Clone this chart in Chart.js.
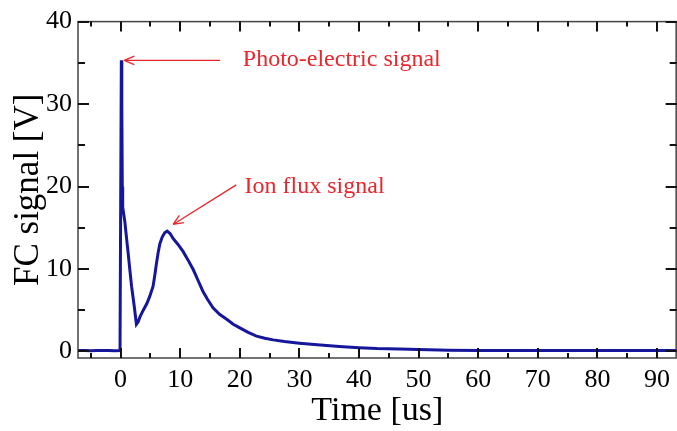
<!DOCTYPE html>
<html>
<head>
<meta charset="utf-8">
<script src="https://cdn.jsdelivr.net/npm/chart.js@4.4.1/dist/chart.umd.min.js"></script>
<style>
  html, body { margin: 0; padding: 0; background: #fff; }
  #wrap { width: 677px; height: 431px; }
</style>
</head>
<body>
<div id="wrap"><canvas id="fcChart"></canvas></div>
<script>
// Datos (tiempo en us, señal en V)
const timeUs = [-7.15, -6, -5, -4, -3, -2, -1, -0.1, 0.0, 0.12, 0.2, 0.28, 0.35, 0.45, 0.7, 1.0, 1.27, 1.55, 1.84, 2.28,
    2.65, 2.95, 3.25, 3.8, 4.4, 4.9, 5.45, 5.75, 6.0, 6.3, 6.6, 7.0, 7.4, 7.8, 8.3, 8.8, 9.6, 10.5, 11.3, 12.2,
    13.0, 13.8, 14.6, 15.5, 16.6, 17.8, 18.9, 20.0, 21.4, 22.8, 24.2, 25.6, 27.5, 30.0, 33.0, 36.7, 40.0, 43.0, 46.8, 50.0,
    55, 60, 65, 70, 75, 80, 85, 90, 93.3];
const signalV = [0.1, 0.12, 0.08, 0.1, 0.12, 0.1, 0.08, 0.1, 0.1, 35.3, 30.0, 20.0, 17.5, 17.0, 15.8, 13.7, 11.9, 9.9, 7.9, 5.5,
    3.3, 3.6, 4.2, 5.0, 5.8, 6.7, 7.9, 9.3, 10.6, 12.0, 13.1, 13.9, 14.4, 14.6, 14.3, 13.7, 13.0, 12.1, 11.1, 9.9,
    8.6, 7.3, 6.3, 5.3, 4.5, 3.9, 3.3, 2.85, 2.3, 1.85, 1.6, 1.4, 1.2, 1.0, 0.8, 0.6, 0.45, 0.35, 0.3, 0.22,
    0.15, 0.1, 0.12, 0.1, 0.1, 0.12, 0.1, 0.1, 0.1];

const xMajorTicks = [0, 10, 20, 30, 40, 50, 60, 70, 80, 90];
const xMinorTicks = [-5, 5, 15, 25, 35, 45, 55, 65, 75, 85];
const yMajorTicks = [0, 10, 20, 30, 40];
const yMinorTicks = [5, 15, 25, 35];

// Anotaciones en unidades de datos
const noteLabels = ["Photo-electric signal", "Ion flux signal"];
const noteTextPos = [[20.5, 34.6], [20.8, 19.2]];
const arrowTails = [[16.7, 35.3], [19.4, 20.2]];
const arrowHeads = [[0.6, 35.3], [8.8, 15.4]];

const serif = '"Liberation Serif", "Times New Roman", serif';

// Marco y ticks hacia adentro en los cuatro lados
const frameTicks = {
    id: 'frameTicks',
    afterDraw(chart) {
        const { ctx, chartArea: a, scales } = chart;
        const xs = scales.x, ys = scales.y;
        ctx.save();
        ctx.strokeStyle = '#444';
        ctx.lineWidth = 1.5;
        ctx.strokeRect(a.left, a.top, a.right - a.left - 0.5, a.bottom - a.top);
        ctx.strokeStyle = '#111';
        ctx.lineWidth = 2;
        const tickX = (vals, len) => vals.forEach(v => {
            const px = Math.round(xs.getPixelForValue(v));
            if (px <= a.left || px >= a.right) return;
            ctx.beginPath();
            ctx.moveTo(px, a.bottom); ctx.lineTo(px, a.bottom - len);
            ctx.moveTo(px, a.top); ctx.lineTo(px, a.top + len);
            ctx.stroke();
        });
        const tickY = (vals, len) => vals.forEach(v => {
            const py = Math.round(ys.getPixelForValue(v));
            if (py <= a.top || py >= a.bottom) return;
            ctx.beginPath();
            ctx.moveTo(a.left, py); ctx.lineTo(a.left + len, py);
            ctx.moveTo(a.right, py); ctx.lineTo(a.right - len, py);
            ctx.stroke();
        });
        tickX(xMajorTicks, 10);
        tickX(xMinorTicks, 5);
        tickY(yMajorTicks, 11);
        tickY(yMinorTicks, 7);
        ctx.restore();
    }
};

// Flechas y textos en rojo
const notes = {
    id: 'notes',
    afterDatasetsDraw(chart) {
        const { ctx, scales } = chart;
        const px = v => scales.x.getPixelForValue(v);
        const py = v => scales.y.getPixelForValue(v);
        ctx.save();
        ctx.strokeStyle = '#e8262c';
        ctx.fillStyle = '#e8262c';
        ctx.lineWidth = 1.3;
        arrowTails.forEach((t, i) => {
            const x0 = px(t[0]), y0 = py(t[1]);
            const x1 = px(arrowHeads[i][0]), y1 = py(arrowHeads[i][1]);
            const ang = Math.atan2(y1 - y0, x1 - x0);
            ctx.beginPath();
            ctx.moveTo(x0, y0); ctx.lineTo(x1, y1);
            [0.4, -0.4].forEach(d => {
                ctx.moveTo(x1, y1);
                ctx.lineTo(x1 - 11 * Math.cos(ang + d), y1 - 11 * Math.sin(ang + d));
            });
            ctx.stroke();
        });
        ctx.font = '24px ' + serif;
        ctx.textBaseline = 'alphabetic';
        noteLabels.forEach((txt, i) => {
            ctx.fillText(txt, px(noteTextPos[i][0]), py(noteTextPos[i][1]));
        });
        ctx.restore();
    }
};

const ctx = document.getElementById('fcChart').getContext('2d');
new Chart(ctx, {
    type: 'line',
    data: {
        datasets: [{
            data: timeUs.map((t, i) => ({ x: t, y: signalV[i] })),
            borderColor: '#16169c',
            borderWidth: 3,
            pointRadius: 0,
            tension: 0,
            fill: false
        }]
    },
    options: {
        responsive: true,
        maintainAspectRatio: false,
        animation: false,
        layout: { padding: { top: 20, right: 0, bottom: 0, left: 0 } },
        plugins: { legend: { display: false }, tooltip: { enabled: false } },
        scales: {
            x: {
                type: 'linear',
                min: -7.15,
                max: 93.3,
                afterBuildTicks: s => { s.ticks = xMajorTicks.map(v => ({ value: v })); },
                afterFit: s => { s.height = 73; },
                grid: { display: false, drawTicks: false },
                border: { display: false },
                ticks: { color: '#000', padding: 7, maxRotation: 0, font: { family: serif, size: 26 } },
                title: {
                    display: true, text: 'Time [us]', color: '#000',
                    font: { family: serif, size: 34, lineHeight: 1.2 }, padding: { top: 0, bottom: 0 }
                }
            },
            y: {
                min: -0.8,
                max: 40,
                afterBuildTicks: s => { s.ticks = yMajorTicks.map(v => ({ value: v })); },
                afterFit: s => { s.width = 78; },
                grid: { display: false, drawTicks: false },
                border: { display: false },
                ticks: { color: '#000', padding: 6, font: { family: serif, size: 26 } },
                title: {
                    display: true, text: 'FC signal [V]', color: '#000',
                    font: { family: serif, size: 35, lineHeight: 1.2 }, padding: { top: 8, bottom: 0 }
                }
            }
        }
    },
    plugins: [frameTicks, notes]
});
</script>
</body>
</html>
